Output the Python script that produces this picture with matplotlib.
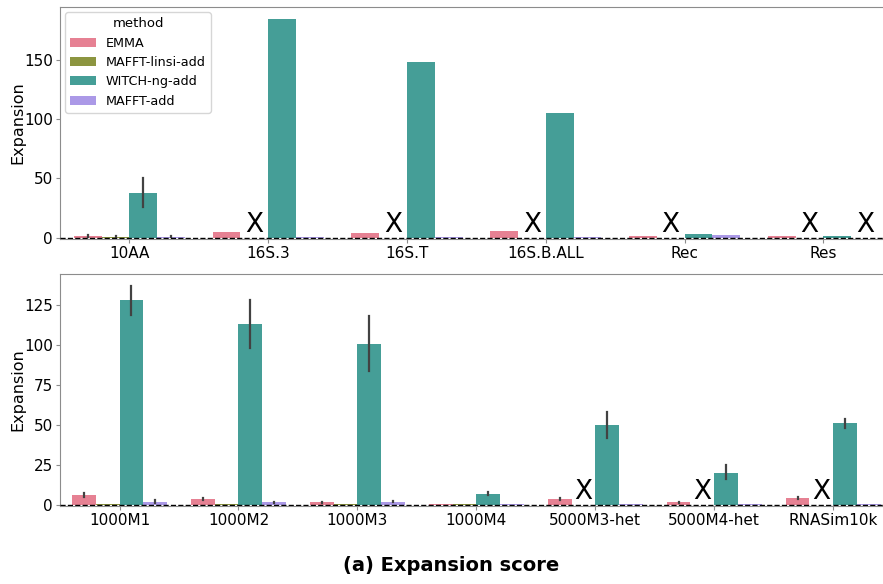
import numpy as np
import matplotlib
matplotlib.use('Agg')
import matplotlib.pyplot as plt
import seaborn as sns

methods = ['EMMA', 'MAFFT-linsi-add', 'WITCH-ng-add', 'MAFFT-add']
nan = np.nan

# top panel
top_cats = ['10AA', '16S.3', '16S.T', '16S.B.ALL', 'Rec', 'Res']
top_vals = {
    'EMMA':            [1.5, 4.5, 4.0, 5.5, 1.5, 1.2],
    'MAFFT-linsi-add': [0.8, nan, nan, nan, nan, nan],
    'WITCH-ng-add':    [38.0, 184.0, 148.0, 105.0, 3.5, 1.5],
    'MAFFT-add':       [1.0, 0.6, 0.6, 0.6, 2.0, nan],
}
top_lo = {
    'EMMA':            [0.8, nan, nan, nan, nan, nan],
    'MAFFT-linsi-add': [0.4, nan, nan, nan, nan, nan],
    'WITCH-ng-add':    [26.0, nan, nan, nan, nan, nan],
    'MAFFT-add':       [0.5, nan, nan, nan, nan, nan],
}
top_hi = {
    'EMMA':            [2.3, nan, nan, nan, nan, nan],
    'MAFFT-linsi-add': [1.3, nan, nan, nan, nan, nan],
    'WITCH-ng-add':    [50.0, nan, nan, nan, nan, nan],
    'MAFFT-add':       [1.6, nan, nan, nan, nan, nan],
}

# bottom panel
bot_cats = ['1000M1', '1000M2', '1000M3', '1000M4', '5000M3-het', '5000M4-het', 'RNASim10k']
bot_vals = {
    'EMMA':            [6.0, 3.5, 1.5, 0.5, 3.5, 1.5, 4.0],
    'MAFFT-linsi-add': [0.5, 0.5, 0.5, 0.5, nan, nan, nan],
    'WITCH-ng-add':    [128.0, 113.0, 100.5, 7.0, 50.0, 20.0, 51.0],
    'MAFFT-add':       [2.0, 1.5, 2.0, 0.5, 0.5, 0.5, 0.6],
}
bot_lo = {
    'EMMA':            [5.0, 3.0, 1.0, 0.3, 2.8, 1.0, 3.4],
    'MAFFT-linsi-add': [nan, nan, nan, nan, nan, nan, nan],
    'WITCH-ng-add':    [119.0, 98.0, 84.0, 6.0, 42.0, 16.0, 48.0],
    'MAFFT-add':       [1.3, 1.0, 1.5, nan, nan, nan, nan],
}
bot_hi = {
    'EMMA':            [7.2, 4.2, 2.0, 0.7, 4.3, 2.0, 4.6],
    'MAFFT-linsi-add': [nan, nan, nan, nan, nan, nan, nan],
    'WITCH-ng-add':    [137.0, 128.0, 118.0, 8.0, 58.0, 25.0, 53.5],
    'MAFFT-add':       [2.7, 2.0, 2.4, nan, nan, nan, nan],
}

colors = [sns.desaturate(c, 0.75) for c in sns.color_palette('husl', 4)]
offsets = [-0.3, -0.1, 0.1, 0.3]
spine_col = '#8c8c8c'

fig = plt.figure(figsize=(8.83, 5.84), dpi=100)
ax1 = fig.add_axes([0.068, 0.5908, 0.943, 0.3972])
ax2 = fig.add_axes([0.068, 0.1336, 0.943, 0.3972])


def draw(ax, cats, vals, lo, hi, ylim, yticks, legend=False):
    x = np.arange(len(cats))
    for m, c, off in zip(methods, colors, offsets):
        v = np.array(vals[m], dtype=float)
        ax.bar(x + off, np.nan_to_num(v), width=0.2, color=c, label=m, zorder=2)
        for i in range(len(cats)):
            if np.isnan(v[i]):
                ax.text(x[i] + off, 0, 'X', ha='center', va='bottom', fontsize=19, zorder=4)
            elif not np.isnan(lo[m][i]):
                ax.plot([x[i] + off] * 2, [lo[m][i], hi[m][i]], color='#424242', lw=1.6, zorder=3)
    ax.axhline(0, color='black', ls='--', lw=1, zorder=3)
    ax.set_xlim(-0.5, len(cats) - 0.5)
    ax.set_ylim(*ylim)
    ax.set_yticks(yticks)
    ax.set_xticks(x)
    ax.set_xticklabels(cats)
    ax.tick_params(labelsize=11, color=spine_col, length=3, pad=2)
    ax.set_ylabel('Expansion', fontsize=11.5)
    ax.yaxis.set_label_coords(-0.042, 0.5)
    for s in ax.spines.values():
        s.set_color(spine_col)
    if legend:
        ax.legend(title='method', loc='upper left', fontsize=9.2, title_fontsize=9.5,
                  borderaxespad=0.4)


draw(ax1, top_cats, top_vals, top_lo, top_hi, (-1, 194.5), [0, 50, 100, 150], legend=True)
draw(ax2, bot_cats, bot_vals, bot_lo, bot_hi, (-0.8, 144.4), [0, 25, 50, 75, 100, 125])

fig.text(0.511, 0.032, '(a) Expansion score', ha='center', va='center',
         fontsize=14, fontweight='bold')

fig.savefig('out.png', dpi=100)
